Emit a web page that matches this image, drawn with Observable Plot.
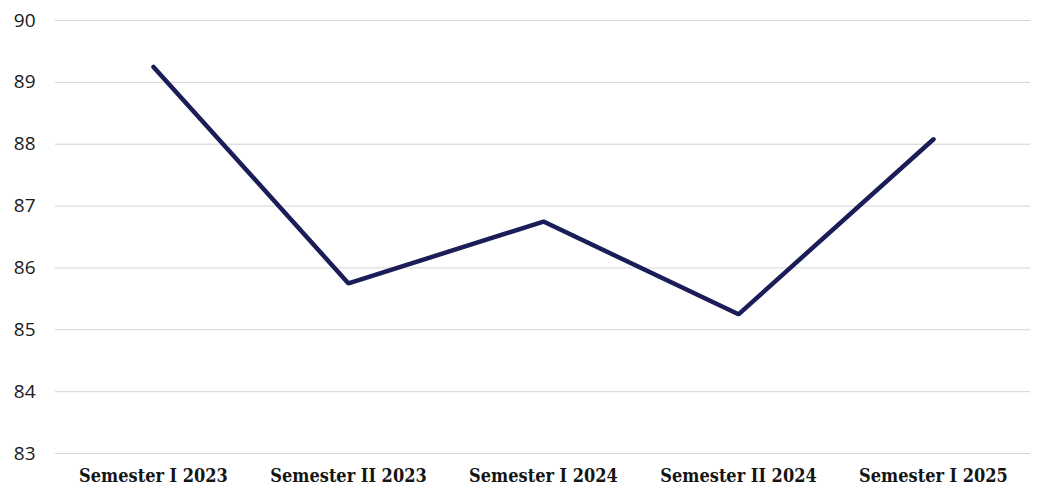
<!DOCTYPE html>
<html>
<head>
<meta charset="utf-8">
<script src="https://cdn.jsdelivr.net/npm/d3@7"></script>
<script src="https://cdn.jsdelivr.net/npm/@observablehq/plot@0.6"></script>
<style>
  html, body { margin: 0; padding: 0; background: #fff; }
  #chart svg { display: block; }
  .xax text { font-family: "DejaVu Serif Condensed", "DejaVu Serif", serif; font-stretch: condensed; font-weight: bold; font-size: 18px; fill: #151515; }
  .yax text { font-family: "Open Sans", "Liberation Sans", sans-serif; font-weight: 500; font-size: 19px; fill: #1a1a1a; }
</style>
</head>
<body>
<div id="chart"></div>
<script>
const semesters = ["Semester I 2023", "Semester II 2023", "Semester I 2024", "Semester II 2024", "Semester I 2025"];
const scores = [89.25, 85.75, 86.75, 85.25, 88.08];
const yTicks = [83, 84, 85, 86, 87, 88, 89, 90];

const data = semesters.map((s, i) => ({semester: s, score: scores[i]}));

const chart = Plot.plot({
  width: 1045,
  height: 496,
  marginLeft: 55,
  marginRight: 15,
  marginTop: 20,
  marginBottom: 43,
  style: {background: "#fff", overflow: "visible"},
  x: {type: "point", domain: semesters, padding: 0.5, label: null},
  y: {domain: [83, 90], label: null},
  marks: [
    Plot.gridY(yTicks, {stroke: "#d4d4d4", strokeOpacity: 1, strokeWidth: 1}),
    Plot.axisY(yTicks, {tickSize: 0, tickPadding: 20, tickFormat: "d", className: "yax", label: null}),
    Plot.axisX({tickSize: 0, tickPadding: 16, className: "xax", label: null}),
    Plot.line(data, {x: "semester", y: "score", stroke: "#1a1d58", strokeWidth: 4.5, strokeLinejoin: "miter", strokeLinecap: "round"})
  ]
});
document.getElementById("chart").appendChild(chart);
</script>
</body>
</html>
